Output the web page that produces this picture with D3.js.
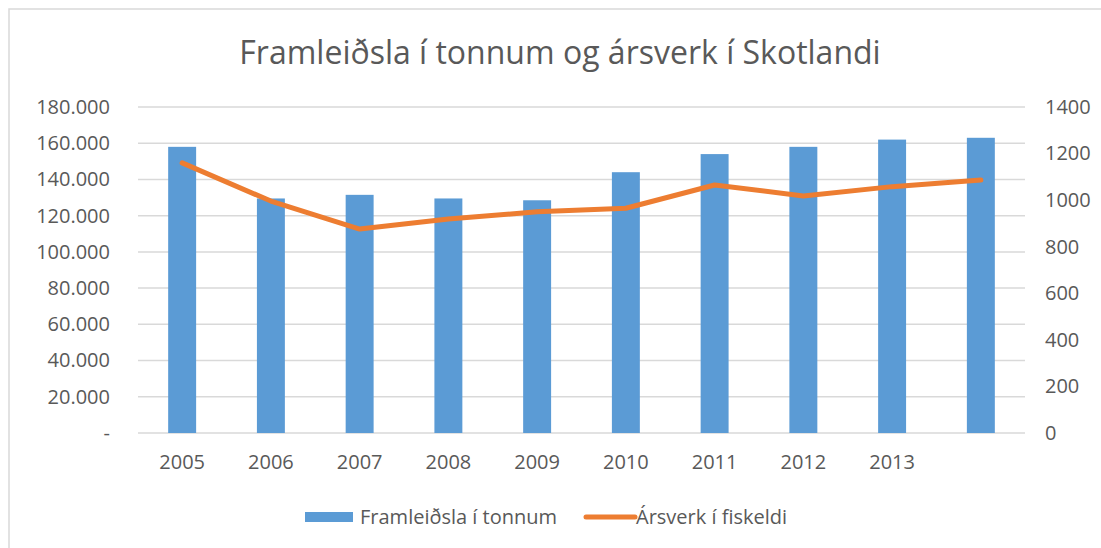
<!DOCTYPE html>
<html>
<head>
<meta charset="utf-8">
<script src="https://cdn.jsdelivr.net/npm/d3@7"></script>
<style>
  body { margin: 0; background: #fff; }
  text { font-family: "Open Sans", "Noto Sans", sans-serif; fill: #595959; }
</style>
</head>
<body>
<svg id="chart"></svg>
<script>
// Data
const years = ["2005", "2006", "2007", "2008", "2009", "2010", "2011", "2012", "2013", ""];
const tonnes = [158000, 129500, 131500, 129500, 128500, 144000, 154000, 158000, 162000, 163000];
const manYears = [1160, 996, 876, 919, 950, 965, 1065, 1018, 1058, 1086];
const leftTicks = [0, 20000, 40000, 60000, 80000, 100000, 120000, 140000, 160000, 180000];
const rightTicks = [0, 200, 400, 600, 800, 1000, 1200, 1400];
const title = "Framleiðsla í tonnum og ársverk í Skotlandi";
const seriesNames = ["Framleiðsla í tonnum", "Ársverk í fiskeldi"];

const width = 1101;
const height = 548;
const margin = { top: 107, right: 76, bottom: 115, left: 138 };
const innerW = width - margin.left - margin.right;
const innerH = height - margin.top - margin.bottom;
const labelSize = "20px";

const svg = d3.select("#chart").attr("width", width).attr("height", height);

// outer chart border (cut off at right and bottom)
svg.append("rect")
  .attr("x", 9).attr("y", 9)
  .attr("width", width + 20).attr("height", height + 20)
  .attr("fill", "none")
  .attr("stroke", "#d9d9d9")
  .attr("stroke-width", 1.5);

const g = svg.append("g").attr("transform", `translate(${margin.left},${margin.top})`);

// Scales
const x = d3.scaleBand().domain(d3.range(years.length)).range([0, innerW]).paddingInner(0.685).paddingOuter(0.34);
const yLeft = d3.scaleLinear().domain([0, 180000]).range([innerH, 0]);
const yRight = d3.scaleLinear().domain([0, 1400]).range([innerH, 0]);

// gridlines
g.selectAll(".grid")
  .data(leftTicks)
  .enter()
  .append("line")
  .attr("x1", 0).attr("x2", innerW)
  .attr("y1", d => yLeft(d)).attr("y2", d => yLeft(d))
  .attr("stroke", "#d9d9d9")
  .attr("stroke-width", 1.5);

// left axis
const fmt = d => d === 0 ? "-" : d3.format(",")(d).replace(/,/g, ".");
const leftAxis = g.append("g")
  .call(d3.axisLeft(yLeft).tickValues(leftTicks).tickFormat(fmt).tickSize(0).tickPadding(28));
leftAxis.select(".domain").remove();
leftAxis.selectAll("text").style("font-size", labelSize).attr("fill", "#595959").style("font-family", null);

// right axis
const rightAxis = g.append("g")
  .attr("transform", `translate(${innerW},0)`)
  .call(d3.axisRight(yRight).tickValues(rightTicks).tickFormat(d3.format("d")).tickSize(0).tickPadding(20));
rightAxis.select(".domain").remove();
rightAxis.selectAll("text").style("font-size", labelSize).attr("fill", "#595959").style("font-family", null);

// bottom axis
const bottomAxis = g.append("g")
  .attr("transform", `translate(0,${innerH})`)
  .call(d3.axisBottom(x).tickFormat(i => years[i]).tickSize(0).tickPadding(22));
bottomAxis.select(".domain").remove();
bottomAxis.selectAll("text").style("font-size", labelSize).attr("fill", "#595959").style("font-family", null);

// bars
g.selectAll(".bar")
  .data(tonnes)
  .enter()
  .append("rect")
  .attr("class", "bar")
  .attr("x", (d, i) => x(i))
  .attr("y", d => yLeft(d))
  .attr("width", x.bandwidth())
  .attr("height", d => innerH - yLeft(d))
  .attr("fill", "#5b9bd5");

// line
const line = d3.line()
  .x((d, i) => x(i) + x.bandwidth() / 2)
  .y(d => yRight(d));

g.append("path")
  .datum(manYears)
  .attr("d", line)
  .attr("fill", "none")
  .attr("stroke", "#ed7d31")
  .attr("stroke-width", 5)
  .attr("stroke-linecap", "round")
  .attr("stroke-linejoin", "round");

// title
svg.append("text")
  .attr("x", 560)
  .attr("y", 64)
  .attr("text-anchor", "middle")
  .style("font-size", "32px")
  .text(title);

// legend
const legend = svg.append("g").attr("transform", "translate(0,517)");
legend.append("rect")
  .attr("x", 305).attr("y", -5)
  .attr("width", 48).attr("height", 10)
  .attr("fill", "#5b9bd5");
legend.append("text")
  .attr("x", 360).attr("y", 7)
  .style("font-size", labelSize)
  .text(seriesNames[0]);
legend.append("line")
  .attr("x1", 586).attr("x2", 635)
  .attr("y1", 0).attr("y2", 0)
  .attr("stroke", "#ed7d31")
  .attr("stroke-width", 5)
  .attr("stroke-linecap", "round");
legend.append("text")
  .attr("x", 636).attr("y", 7)
  .style("font-size", labelSize)
  .text(seriesNames[1]);
</script>
</body>
</html>
